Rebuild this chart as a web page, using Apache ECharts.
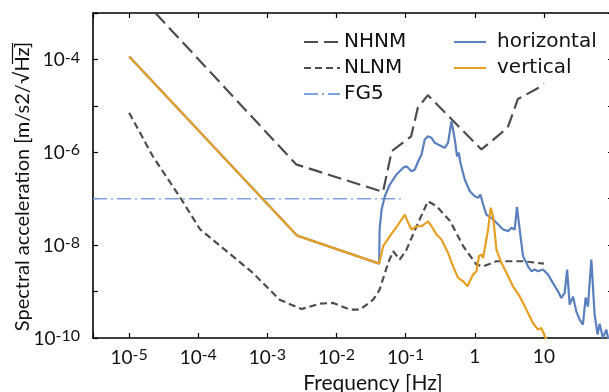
<!DOCTYPE html>
<html>
<head>
<meta charset="utf-8">
<script src="https://cdn.jsdelivr.net/npm/echarts@6/dist/echarts.min.js"></script>
<style>
  html, body { margin: 0; padding: 0; background: #fff; }
  #chart { width: 609px; height: 392px; }
</style>
</head>
<body>
<div id="chart"></div>
<script>
// values, [frequency Hz, acceleration m/s2/sqrt(Hz)]
const nhnm = [
  [2.4e-5, 1.0e-3], [2.6e-3, 5.5e-7], [0.047, 1.4e-7], [0.063, 1.06e-6],
  [0.12, 2.2e-6], [0.15, 9.1e-6], [0.21, 1.7e-5], [1.25, 1.15e-6],
  [3.0, 3.4e-6], [4.2, 1.4e-5], [7.8, 2.3e-5], [10, 3.0e-5]
];

const nlnm = [
  [1e-5, 7.1e-6], [2.2e-5, 8.2e-7], [5.5e-5, 1.05e-7], [1.06e-4, 2.2e-8],
  [2.1e-4, 9.5e-9], [6.2e-4, 2.5e-9], [1.5e-3, 6.7e-10], [3.1e-3, 4.2e-10],
  [5.8e-3, 5.5e-10], [9e-3, 5.7e-10], [0.0156, 4.1e-10], [0.022, 4.1e-10],
  [0.034, 6.7e-10], [0.042, 1.1e-9], [0.056, 4.2e-9], [0.066, 7.4e-9],
  [0.082, 4.9e-9], [0.103, 8.0e-9], [0.144, 2.55e-8], [0.21, 8.8e-8],
  [0.28, 6.9e-8], [0.44, 3.3e-8], [0.68, 9.5e-9], [1.06, 3.8e-9],
  [1.32, 3.5e-9], [2.06, 4.5e-9], [5.0, 4.5e-9], [10, 4.0e-9]
];

const fg5 = [[3e-6, 1e-7], [0.085, 1e-7]];

const horizontal = [
  [1e-5, 1.15e-4], [2.7e-3, 1.6e-8], [0.0415, 4.0e-9], [0.042, 2.2e-8],
  [0.0449, 5.85e-8], [0.050, 1.13e-7], [0.0591, 2.02e-7], [0.0738, 3.33e-7],
  [0.092, 4.63e-7], [0.103, 5.0e-7], [0.1216, 3.92e-7], [0.136, 4.26e-7],
  [0.152, 6.4e-7], [0.170, 8.97e-7], [0.189, 1.89e-6], [0.211, 2.22e-6],
  [0.237, 2.05e-6], [0.264, 1.6e-6], [0.295, 1.47e-6], [0.330, 1.35e-6],
  [0.368, 1.25e-6], [0.411, 1.6e-6], [0.460, 4.68e-6], [0.514, 1.89e-6],
  [0.555, 8.2e-7], [0.587, 9.76e-7], [0.621, 5.94e-7], [0.716, 2.6e-7],
  [0.848, 1.45e-7], [1.0, 1.13e-7], [1.12, 1.05e-7], [1.21, 1.23e-7],
  [1.32, 7.5e-8], [1.47, 4.56e-8], [1.74, 3.87e-8], [2.06, 3.03e-8],
  [2.57, 2.17e-8], [3.03, 2.0e-8], [3.39, 2.36e-8], [3.78, 2.17e-8],
  [4.08, 6.7e-8], [4.47, 2.17e-8], [4.99, 5.8e-9], [5.89, 3.5e-9],
  [6.59, 2.74e-9], [7.36, 2.98e-9], [8.22, 2.74e-9], [9.7, 2.98e-9],
  [11.5, 2.32e-9], [13.5, 1.54e-9], [16.0, 1.01e-9], [17.9, 7.3e-10],
  [20.0, 9.4e-10], [21.7, 2.98e-9], [23.6, 5.25e-10], [26.4, 7.8e-10],
  [29.5, 3.7e-10], [32.9, 2.5e-10], [36.7, 1.95e-10], [40.2, 7.4e-10],
  [43.4, 4.75e-10], [48.6, 4.9e-9], [54.2, 3.2e-10], [59.9, 1.18e-10],
  [64, 2.04e-10], [71.5, 1.0e-10], [80, 1.52e-10], [86, 9e-11]
];

const vertical = [
  [1e-5, 1.15e-4], [2.7e-3, 1.6e-8], [0.0415, 4.0e-9], [0.0473, 9.5e-9],
  [0.0591, 1.56e-8], [0.078, 2.78e-8], [0.0973, 4.56e-8], [0.1086, 3.03e-8],
  [0.1216, 2.17e-8], [0.144, 2.55e-8], [0.170, 2.55e-8], [0.211, 3.27e-8],
  [0.237, 2.55e-8], [0.280, 1.69e-8], [0.330, 1.32e-8], [0.411, 6.8e-9],
  [0.486, 3.5e-9], [0.574, 1.97e-9], [0.678, 1.67e-9], [0.785, 1.3e-9],
  [0.848, 1.67e-9], [0.945, 2.32e-9], [1.06, 2.74e-9], [1.15, 5.8e-9],
  [1.25, 6.3e-9], [1.32, 5.3e-9], [1.56, 2.17e-8], [1.70, 6.4e-8],
  [1.84, 4.2e-8], [2.06, 8.0e-9], [2.43, 4.16e-9], [2.87, 2.53e-9],
  [3.57, 1.3e-9], [4.47, 7.9e-10], [5.58, 4.1e-10], [6.95, 2.1e-10],
  [8.22, 1.52e-10], [9.2, 1.65e-10], [10.3, 1.09e-10], [11, 9e-11]
];

const xRange = [3e-6, 100];
const yRange = [1e-10, 1e-3];

const chart = echarts.init(document.getElementById('chart'));

function isDecade(v) {
  const l = Math.log10(v);
  return Math.abs(l - Math.round(l)) < 1e-6;
}

function xLabel(v) {
  if (!isDecade(v)) return '';
  const e = Math.round(Math.log10(v));
  if (e === 0) return '{b|1}';
  if (e === 1) return '{b|10}';
  if (e > 1) return '';
  return '{b|10}{s|' + e + '}';
}

function yLabel(v) {
  if (!isDecade(v)) return '';
  const e = Math.round(Math.log10(v));
  if (e % 2 !== 0) return '';
  return '{b|10}{s|' + e + '}';
}

const labelRich = {
  b: { fontFamily: 'Lato', fontSize: 19, color: '#111', verticalAlign: 'bottom' },
  s: { fontFamily: 'Lato', fontSize: 16, color: '#111', verticalAlign: 'top', padding: [0, 0, 4, 0] }
};

const axisBase = {
  type: 'log',
  logBase: 10,
  axisLine: { show: true, lineStyle: { color: '#000', width: 1.6 } },
  axisTick: { show: true, inside: true, length: 5, lineStyle: { color: '#000', width: 1.2 } },
  splitLine: { show: false },
  minorTick: { show: false },
  nameMoveOverlap: false
};

const legendText = { fontFamily: 'DejaVu Sans', fontSize: 20, color: '#111' };

const option = {
  animation: false,
  backgroundColor: '#fff',
  grid: { left: 93, right: -4, top: 13, bottom: 54, outerBoundsMode: 'none' },
  legend: [
    {
      orient: 'vertical', left: 298, top: 27, itemWidth: 36, itemHeight: 10, itemGap: 6,
      itemStyle: { opacity: 0 },
      textStyle: Object.assign({ padding: [0, 0, 0, -1] }, legendText),
      data: ['NHNM', 'NLNM', 'FG5']
    },
    {
      orient: 'vertical', left: 448, top: 27, itemWidth: 32, itemHeight: 10, itemGap: 6,
      itemStyle: { opacity: 0 },
      textStyle: Object.assign({ padding: [0, 0, 0, 6] }, legendText),
      data: ['horizontal', 'vertical']
    }
  ],
  xAxis: [
    Object.assign({}, axisBase, {
      position: 'bottom', min: xRange[0], max: xRange[1],
      name: 'Frequency [Hz]', nameLocation: 'middle', nameGap: 35,
      nameTextStyle: { fontFamily: 'Lato', fontSize: 21, color: '#111', padding: [0, 0, 0, 40] },
      axisLabel: { formatter: xLabel, interval: 0, margin: 9, rich: labelRich, showMinLabel: true, showMaxLabel: true }
    }),
    Object.assign({}, axisBase, {
      position: 'top', min: xRange[0], max: xRange[1],
      axisLabel: { show: false }
    })
  ],
  yAxis: [
    Object.assign({}, axisBase, {
      position: 'left', min: yRange[0], max: yRange[1],
      name: 'Spectral acceleration [m/s2/√Hz]', nameLocation: 'middle', nameGap: 60,
      nameTextStyle: { fontFamily: 'Lato', fontSize: 20, color: '#111', padding: [0, 22, 0, 0] },
      axisLabel: { formatter: yLabel, interval: 0, margin: 13, rich: labelRich, showMinLabel: true, showMaxLabel: true }
    }),
    Object.assign({}, axisBase, {
      position: 'right', min: yRange[0], max: yRange[1],
      axisLabel: { show: false }
    })
  ],
  graphic: [
    // vinculum of the square root over "Hz" in the rotated axis title
    { type: 'line', shape: { x1: 12.5, y1: 43, x2: 12.5, y2: 64 }, style: { stroke: '#111', lineWidth: 1.2 }, silent: true }
  ],
  series: [
    {
      name: 'NHNM', type: 'line', data: nhnm, symbol: 'none', z: 2,
      lineStyle: { color: '#4d4d4d', width: 2.2, type: [14, 6], opacity: 1 },
      itemStyle: { color: '#4d4d4d' }
    },
    {
      name: 'NLNM', type: 'line', data: nlnm, symbol: 'none', z: 2,
      lineStyle: { color: '#4d4d4d', width: 2.2, type: [7, 4], opacity: 1 },
      itemStyle: { color: '#4d4d4d' }
    },
    {
      name: 'FG5', type: 'line', data: fg5, symbol: 'none', z: 2,
      lineStyle: { color: '#7fa3dc', width: 1.4, type: [14, 4, 2, 4], opacity: 1 },
      itemStyle: { color: '#7fa3dc' }
    },
    {
      name: 'horizontal', type: 'line', data: horizontal, symbol: 'none', z: 3,
      lineStyle: { color: '#5a80bd', width: 2.2, opacity: 1 },
      itemStyle: { color: '#5a80bd' }
    },
    {
      name: 'vertical', type: 'line', data: vertical, symbol: 'none', z: 4,
      lineStyle: { color: '#e6a024', width: 2.2, opacity: 1 },
      itemStyle: { color: '#e6a024' }
    }
  ]
};

chart.setOption(option);
window.addEventListener('resize', function () {
  chart.resize();
});
</script>
</body>
</html>
